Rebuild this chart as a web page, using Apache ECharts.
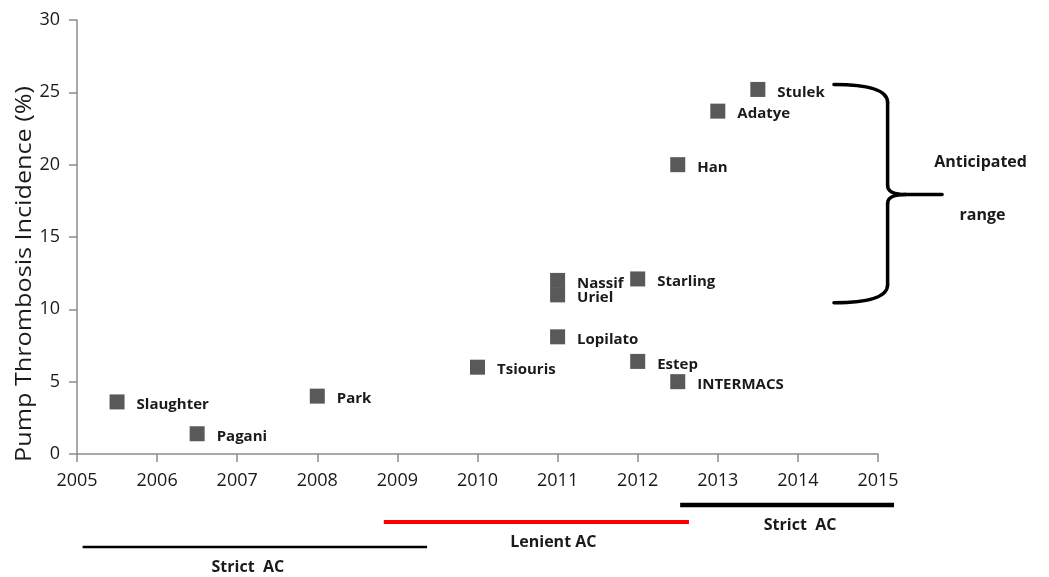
<!DOCTYPE html>
<html>
<head>
<meta charset="utf-8">
<script src="https://cdn.jsdelivr.net/npm/echarts@6/dist/echarts.min.js"></script>
<style>html,body{margin:0;padding:0;background:#fff}#c{width:1049px;height:577px}</style>
</head>
<body>
<div id="c"></div>
<script>
// ---- data ----
const studies = ['Slaughter','Pagani','Park','Tsiouris','Nassif','Uriel','Lopilato','Starling','Estep','INTERMACS','Han','Adatye','Stulek'];
const years = [2005.5, 2006.5, 2008, 2010, 2011, 2011, 2011, 2012, 2012, 2012.5, 2012.5, 2013, 2013.5];
const incidence = [3.6, 1.4, 4.0, 6.0, 12.0, 11.0, 8.1, 12.1, 6.4, 5.0, 20.0, 23.7, 25.2];
const xTicks = [2005, 2006, 2007, 2008, 2009, 2010, 2011, 2012, 2013, 2014, 2015];
const yTicks = [0, 5, 10, 15, 20, 25, 30];
const anticipatedRange = [10.45, 25.55];
const periodLabels = ['Strict  AC', 'Lenient AC', 'Strict  AC'];
const periodStart = [2005.07, 2008.83, 2012.53];
const periodEnd = [2009.37, 2012.64, 2015.2];

const FONT = '"Open Sans", Lato, sans-serif';
const chart = echarts.init(document.getElementById('c'), null, {renderer: 'canvas'});
const pts = studies.map((s, i) => [years[i], incidence[i], s]);

chart.setOption({
  animation: false,
  grid: {left: 77, right: 171, top: 20, bottom: 123},
  xAxis: {
    type: 'value', min: xTicks[0], max: xTicks[xTicks.length - 1], interval: 1,
    axisLine: {lineStyle: {color: '#8c8c8c', width: 1.5}},
    axisTick: {show: true, length: 8, lineStyle: {color: '#8c8c8c', width: 1.5}},
    splitLine: {show: false},
    axisLabel: {color: '#1a1a1a', fontFamily: FONT, fontSize: 18, margin: 18, formatter: v => String(v)}
  },
  yAxis: {
    type: 'value', min: yTicks[0], max: yTicks[yTicks.length - 1], interval: 5,
    axisLine: {show: true, lineStyle: {color: '#8c8c8c', width: 1.5}},
    axisTick: {show: true, length: 8, lineStyle: {color: '#8c8c8c', width: 1.5}},
    splitLine: {show: false},
    axisLabel: {color: '#1a1a1a', fontFamily: FONT, fontSize: 18, margin: 17}
  },
  series: [{
    type: 'scatter',
    data: pts,
    symbol: 'rect',
    symbolSize: 15,
    itemStyle: {color: '#595959', opacity: 1},
    emphasis: {disabled: true},
    label: {
      show: true, position: 'right', distance: 12, offset: [0, 3],
      formatter: p => p.data[2],
      color: '#1a1a1a', fontFamily: FONT, fontWeight: 'bold', fontSize: 15
    }
  }]
});

// ---- annotations positioned through the axes ----
const px = (x, y) => chart.convertToPixel({gridIndex: 0}, [x, y]);
const yTop = px(2015, anticipatedRange[1])[1];
const yBot = px(2015, anticipatedRange[0])[1];
const yMid = (yTop + yBot) / 2 + 1;
const xArm = px(2014.45, 0)[0];
const xSpine = px(2015.12, 0)[0];
const xTip = px(2015.8, 0)[0];
const r = 18, rt = 9;
const braceStyle = {fill: null, stroke: '#000', lineWidth: 3.5, lineCap: 'round'};

const graphics = [
  {type: 'bezierCurve', shape: {x1: xArm, y1: yTop, cpx1: xSpine, cpy1: yTop, x2: xSpine, y2: yTop + r}, style: braceStyle},
  {type: 'line', shape: {x1: xSpine, y1: yTop + r, x2: xSpine, y2: yMid - rt}, style: braceStyle},
  {type: 'bezierCurve', shape: {x1: xSpine, y1: yMid - rt, cpx1: xSpine, cpy1: yMid, x2: xSpine + 2 * rt, y2: yMid}, style: braceStyle},
  {type: 'line', shape: {x1: xSpine + 2 * rt, y1: yMid, x2: xTip, y2: yMid}, style: braceStyle},
  {type: 'bezierCurve', shape: {x1: xSpine + 2 * rt, y1: yMid, cpx1: xSpine, cpy1: yMid, x2: xSpine, y2: yMid + rt}, style: braceStyle},
  {type: 'line', shape: {x1: xSpine, y1: yMid + rt, x2: xSpine, y2: yBot - r}, style: braceStyle},
  {type: 'bezierCurve', shape: {x1: xSpine, y1: yBot - r, cpx1: xSpine, cpy1: yBot, x2: xArm, y2: yBot}, style: braceStyle},
  {type: 'text', x: (xTip + 999) / 2 + 10, y: yMid - 32, style: {text: 'Anticipated', fill: '#1a1a1a', font: `bold 16px ${FONT}`, align: 'center', verticalAlign: 'middle'}},
  {type: 'text', x: (xTip + 999) / 2 + 12, y: yMid + 21, style: {text: 'range', fill: '#1a1a1a', font: `bold 16px ${FONT}`, align: 'center', verticalAlign: 'middle'}},
  {type: 'text', x: 25, y: 274, rotation: Math.PI / 2, scaleX: 1.2, style: {text: 'Pump Thrombosis Incidence (%)', fill: '#1a1a1a', font: `21px ${FONT}`, align: 'center', verticalAlign: 'middle'}}
];

const axisBottom = px(2005, 0)[1];
const periodLineY = [axisBottom + 93, axisBottom + 68, axisBottom + 51];
const periodColors = ['#000000', '#ff0000', '#000000'];
const periodWidths = [2.5, 4, 4.5];
const periodTextShift = [-7, 17, 13];
periodLabels.forEach((lab, i) => {
  const x1 = px(periodStart[i], 0)[0], x2 = px(periodEnd[i], 0)[0];
  const y = periodLineY[i];
  graphics.push({type: 'line', shape: {x1, y1: y, x2, y2: y}, style: {stroke: periodColors[i], lineWidth: periodWidths[i]}});
  graphics.push({type: 'text', x: (x1 + x2) / 2 + periodTextShift[i], y: y + 20, style: {text: lab, fill: '#1a1a1a', font: `bold 16px ${FONT}`, align: 'center', verticalAlign: 'middle'}});
});
chart.setOption({graphic: graphics});
</script>
</body>
</html>
